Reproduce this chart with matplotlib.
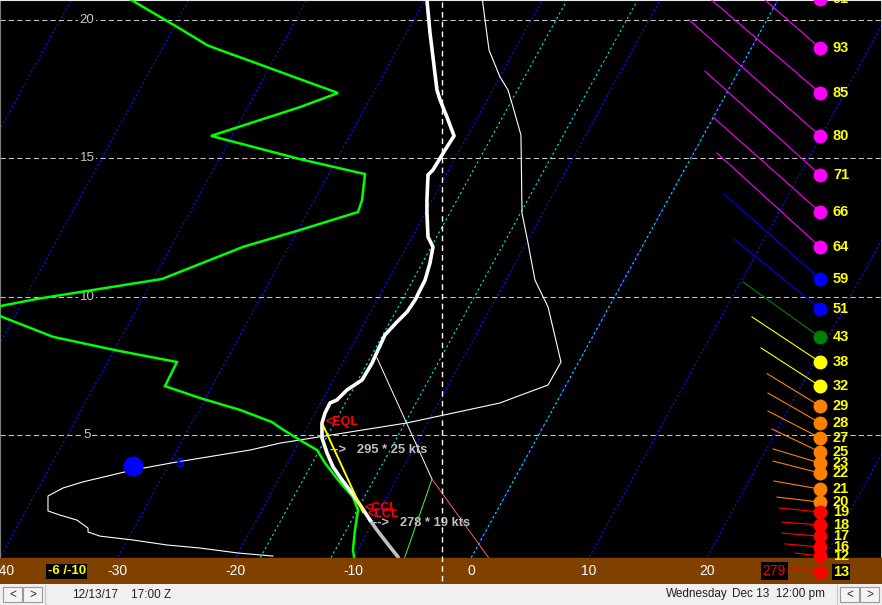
import matplotlib
matplotlib.use("Agg")
import matplotlib.pyplot as plt
from matplotlib.patches import Rectangle

plt.rcParams['font.family'] = ['Liberation Sans', 'DejaVu Sans']

# ------------------------------------------------------------------ data
# temperature axis reference labels (deg C at the surface) and height labels (kft)
x_tick_values = [-40, -30, -20, -10, 0, 10, 20]
x_tick_labels = ['-40', '-30', '-20', '-10', '0', '10', '20']
height_levels = [5, 10, 15, 20]
isotherm_values = list(range(-100, 40, 10))
cyan_line_values = [-17.9, -11.9, 0.0]
reference_temp = -2.5

# main temperature profile (skewed x, height kft)
temp_t = [-3.74, -3.74, -3.48, -3.23, -2.89, -2.63, -2.04, -1.44, -2.04, -3.23, -3.65,
          -3.74, -3.74, -3.65, -3.23, -3.48, -3.90, -4.75, -5.43, -6.28, -7.30, -7.89,
          -8.40, -9.25, -10.53, -11.38, -11.97, -12.39, -12.65, -12.65, -12.22, -11.71,
          -10.95, -10.10, -9.25, -8.57]
temp_h = [20.90, 20.72, 19.53, 18.66, 17.47, 17.11, 16.49, 15.81, 15.41, 14.58, 14.40,
          13.49, 13.02, 12.16, 11.80, 11.22, 10.60, 9.88, 9.45, 9.09, 8.62, 8.08,
          7.60, 6.99, 6.63, 6.27, 6.16, 5.80, 5.44, 4.90, 4.35, 3.85,
          3.38, 2.91, 2.37, 1.93]
# surface layer part of the temperature profile
temp_low_t = [-8.57, -7.98, -7.13, -6.20, -6.03]
temp_low_h = [1.93, 1.57, 1.10, 0.60, 0.40]

# dewpoint profile
dew_t = [-29.12, -26.40, -24.53, -22.41, -21.56, -18.51, -14.52, -11.29, -14.52, -22.07,
         -14.52, -9.00, -9.25, -9.59, -14.52, -19.35, -26.23, -36.84, -39.98, -40.83,
         -39.98, -35.48, -30.22, -24.96, -25.98, -23.01, -19.61, -16.89, -16.04, -14.52,
         -13.07, -12.39, -11.29, -10.02, -9.59, -9.85, -10.02, -9.85]
dew_h = [20.79, 20.11, 19.64, 19.09, 18.95, 18.48, 17.86, 17.36, 16.85, 15.81,
         14.97, 14.43, 13.49, 13.06, 12.41, 11.80, 10.64, 9.92, 9.66, 9.48,
         9.30, 8.55, 8.07, 7.64, 6.77, 6.34, 5.91, 5.47, 5.22, 4.82,
         4.46, 3.99, 3.38, 2.76, 2.29, 1.57, 0.85, 0.40]

# thin white trace
thin_t = [0.93, 1.19, 1.53, 2.46, 3.14, 3.57, 4.24, 4.33, 4.84, 5.43, 6.54, 7.64, 6.54,
          3.57, 2.46, -5.43, -16.21, -18.76, -24.96, -28.69, -32.94, -34.63, -35.91,
          -35.91, -34.89, -33.45, -32.51, -32.51, -31.49, -28.69, -25.81, -23.01,
          -19.78, -16.81]
thin_h = [20.85, 20.00, 18.91, 17.94, 17.47, 16.85, 15.84, 13.02, 11.94, 10.60, 9.63,
          7.64, 6.81, 6.34, 6.16, 5.44, 4.71, 4.46, 4.03, 3.74, 3.31, 3.09, 2.80,
          2.26, 2.11, 1.93, 1.64, 1.50, 1.35, 1.21, 1.03, 0.92, 0.74, 0.63]

# parcel (yellow) between EQL and LCL
parcel_t = [-12.56, -9.17]
parcel_h = [5.36, 2.22]

# thin lines meeting near 3.4 kft
mix_white_t = [-7.98, -3.31]
mix_white_h = [7.79, 3.41]
mix_green_t = [-3.31, -5.69]
mix_green_h = [3.41, 0.50]
mix_red_t = [-3.31, 1.61]
mix_red_h = [3.41, 0.50]

# blue marker
marker_t = [-28.69]
marker_h = [3.88]

# wind column at the right
barb_speed = [91, 93, 85, 80, 71, 66, 64, 59, 51, 43, 38, 32, 29, 28, 27, 25, 23, 22,
              21, 20, 19, 18, 17, 16, 12, 13]
barb_h = [20.75, 18.98, 17.36, 15.81, 14.40, 13.06, 11.80, 10.64, 9.56, 8.54, 7.64,
          6.77, 6.05, 5.44, 4.90, 4.39, 3.99, 3.63, 3.05, 2.58, 2.22, 1.75, 1.35,
          0.96, 0.63, 0.05]
barb_tail_t = [25.0, 22.84, 19.44, 18.51, 19.86, 20.54, 20.88, 21.48, 22.33, 23.09,
               23.85, 24.62, 25.13, 25.21, 25.21, 25.55, 25.64, 25.64, 25.72, 25.98,
               26.15, 26.40, 26.40, 26.66, 27.50, 27.33]
barb_tail_h = [22.3, 21.51, 21.08, 20.00, 18.15, 16.49, 15.19, 13.71, 12.08, 10.53,
               9.27, 8.15, 7.22, 6.52, 5.87, 5.22, 4.50, 4.06, 3.34, 2.76, 2.37,
               1.86, 1.46, 1.07, 0.74, 0.20]
barb_column_t = 29.63

# annotation texts
surface_box_text = '-6 /-10'
storm_dir_text = '279'
wind_text_upper = '-->   295 * 25 kts'
wind_text_lower = '-->   278 * 19 kts'
date_text = '12/13/17'
time_text = '17:00 Z'
day_text = 'Wednesday'
local_text = 'Dec 13  12:00 pm'

# ------------------------------------------------------------------ geometry
SKEW = 1.292          # deg per kft
H_BAND = 0.56         # top of the surface band (kft)
PX_T = 11.78
PX_H = 27.68


def skew_x(t0, h):
    return t0 + SKEW * (h - H_BAND)


def speed_color(s):
    if s >= 60:
        return '#ff00ff'
    if s >= 50:
        return '#0000ff'
    if s >= 40:
        return '#008000'
    if s >= 30:
        return '#ffff00'
    if s >= 20:
        return '#ff8000'
    return '#ff0000'


fig = plt.figure(figsize=(8.82, 6.05), dpi=100)
fig.patch.set_facecolor('#f0f0f0')
ax = fig.add_axes([0, 21 / 605, 1, 584 / 605])
ax.set_facecolor('black')
x_lo, x_hi = -471 / PX_T, (882 - 471) / PX_T
y_lo, y_hi = (573.5 - 584) / PX_H, 573.5 / PX_H
ax.set_xlim(x_lo, x_hi)
ax.set_ylim(y_lo, y_hi)
ax.set_xticks([])
ax.set_yticks([])
ax.spines['bottom'].set_visible(False)
ax.spines['left'].set_color('#808080')
ax.spines['top'].set_color('#e8e8e8')
ax.spines['right'].set_color('#e8e8e8')
ax.spines['right'].set_linewidth(2)

hh = [y_lo, y_hi + 0.5]
for t0 in isotherm_values:
    ax.plot([skew_x(t0, h) for h in hh], hh, color='#1010ff', lw=0.8,
            ls=(0, (2, 2)), zorder=1)
for t0 in cyan_line_values:
    ax.plot([skew_x(t0, h) for h in hh], hh, color='#00e8e8', lw=0.8,
            ls=(0, (2, 2.5)), zorder=1.2)

for hv in height_levels:
    ax.axhline(hv, color='#c8c8c8', lw=0.75, ls=(0, (5, 3)), zorder=2)
    ax.text(-32.6, hv, str(hv), color='#c8c8c8', fontsize=9.5, ha='center',
            va='center', zorder=2.5,
            bbox=dict(fc='black', ec='none', pad=1.2))

ax.plot([reference_temp, reference_temp], [-0.26, y_hi + 0.5], color='white',
        lw=1.0, ls=(0, (4, 3)), zorder=7)

# thin traces
ax.plot(thin_t, thin_h, color='white', lw=0.8, zorder=3)
ax.plot(mix_white_t, mix_white_h, color='white', lw=0.7, zorder=3)
ax.plot(mix_green_t, mix_green_h, color='#40ff40', lw=0.7, zorder=3)
ax.plot(mix_red_t, mix_red_h, color='#ff6060', lw=0.7, zorder=3)

# profiles
ax.plot(dew_t, dew_h, color='#00ff00', lw=1.8, zorder=4, solid_joinstyle='miter')
ax.plot(temp_low_t, temp_low_h, color='#c0c0c0', lw=2.6, zorder=4)
ax.plot(temp_t, temp_h, color='white', lw=2.6, zorder=4.2)
ax.plot(parcel_t, parcel_h, color='#ffff00', lw=1.4, zorder=4.5)
ax.plot(marker_t, marker_h, 'o', color='#0000ff', ms=13.5, zorder=4.5)

ax.text(-24.7, 3.96, 'S', color='#0000ff', fontsize=9.5, fontweight='bold',
        ha='center', va='center', zorder=4.6)
ax.text(-12.39, 5.47, '<EQL', color='#ff0000', fontsize=9, fontweight='bold',
        ha='left', va='center', zorder=5)
ax.text(-9.0, 2.36, '<CCL', color='#ff0000', fontsize=9, fontweight='bold',
        ha='left', va='center', zorder=5)
ax.text(-8.8, 2.16, '<LCL', color='#ff0000', fontsize=9, fontweight='bold',
        ha='left', va='center', zorder=5)
ax.text(-11.97, 4.46, wind_text_upper, color='#c0c0c0', fontsize=9.3,
        fontweight='bold', ha='left', va='center', zorder=5)
ax.text(-8.3, 1.82, wind_text_lower, color='#c0c0c0', fontsize=9.3,
        fontweight='bold', ha='left', va='center', zorder=5)

# surface band
ax.axhspan(y_lo, H_BAND, color='#804000', zorder=6)
for v, lab in zip(x_tick_values, x_tick_labels):
    ax.text(max(v, x_lo + 0.35), 0.08, lab, color='white', fontsize=10,
            ha='center', va='center', zorder=7)
ax.text(-34.3, 0.08, surface_box_text, color='#ffff00', fontsize=9.5,
        fontweight='bold', ha='center', va='center', zorder=7,
        bbox=dict(fc='black', ec='none', pad=1.0))
ax.text(25.75, 0.08, storm_dir_text, color='#ff0000', fontsize=10,
        ha='center', va='center', zorder=7,
        bbox=dict(fc='black', ec='none', pad=1.5))

# wind column
for s, h, tt, th in zip(barb_speed, barb_h, barb_tail_t, barb_tail_h):
    c = speed_color(s)
    ax.plot([tt, barb_column_t], [th, h], color=c, lw=0.8, zorder=8)
    ax.plot([barb_column_t], [h], 'o', color=c, ms=9, zorder=8.2)
    box = dict(fc='black', ec='none', pad=0.8) if h < H_BAND - 0.2 else None
    ax.text(barb_column_t + 1.1, h, str(s), color='#ffff00', fontsize=10.5,
            fontweight='bold', ha='left', va='center', zorder=8.3, bbox=box)

# ------------------------------------------------------------------ toolbar
bar = fig.add_axes([0, 0, 1, 21 / 605])
bar.set_xlim(0, 882)
bar.set_ylim(0, 21)
bar.axis('off')
bar.add_patch(Rectangle((0, 0), 882, 21, fc='#f0f0f0', ec='none'))
for x0, ch in [(3, '<'), (23, '>'), (840, '<'), (860, '>')]:
    bar.add_patch(Rectangle((x0, 3), 19, 15, fc='#f4f4f4', ec='#9a9a9a', lw=0.8))
    bar.text(x0 + 9.5, 10.5, ch, fontsize=8.5, ha='center', va='center', color='#303030')
bar.plot([45, 45], [1, 20], color='#c8c8c8', lw=0.8)
bar.plot([837, 837], [1, 20], color='#c8c8c8', lw=0.8)
bar.text(95, 10.5, date_text, fontsize=8.5, ha='center', va='center', color='#202020')
bar.text(151, 10.5, time_text, fontsize=8.5, ha='center', va='center', color='#202020')
bar.text(697, 10.5, day_text, fontsize=8.5, ha='center', va='center', color='#202020')
bar.text(778, 10.5, local_text, fontsize=8.5, ha='center', va='center', color='#202020')

fig.savefig('out.png', dpi=100, facecolor=fig.get_facecolor())
